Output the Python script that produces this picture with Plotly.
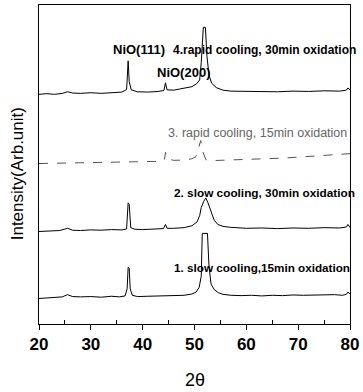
import plotly.graph_objects as go

# 2-theta positions (degrees) and intensities (arbitrary units, offset stacked)
x1 = [20, 21.5, 23, 24.5, 25.5, 26.5, 28, 30, 32, 34, 35.5, 36.6, 37.0, 37.2, 37.4, 37.6, 38.0, 39, 41, 43,
      44.5, 46, 48, 49.5, 50.3, 50.9, 51.3, 51.5, 52.5, 52.8, 53.2, 53.8, 54.6, 55.5, 57, 59, 61, 63, 65, 67,
      69, 71, 73, 75, 77, 78.5, 79.3, 79.6, 80]
y1 = [8.0, 8.2, 8.4, 8.5, 9.2, 8.6, 8.5, 8.6, 8.4, 8.7, 8.5, 8.8, 11.0, 17.8, 17.5, 11.0, 9.0, 8.6, 8.7, 8.8,
      8.9, 8.8, 9.0, 9.4, 10.0, 11.5, 15.0, 28.4, 28.4, 18.0, 12.5, 10.8, 9.8, 9.3, 9.0, 8.9, 9.0, 8.8, 9.0, 8.9,
      9.1, 9.0, 9.1, 9.0, 9.2, 9.0, 9.3, 10.0, 9.4]

x2 = [20, 22, 24, 25.5, 26.5, 28, 30, 32, 34, 36, 36.9, 37.2, 37.4, 37.7, 38.5, 40, 42, 44, 44.4, 44.7,
      46, 48, 49.5, 50.5, 51.0, 51.3, 51.8, 52.2, 52.6, 53.0, 53.3, 53.8, 54.5, 55.5, 57, 60, 63, 66, 69, 72,
      75, 78, 79.3, 79.6, 80]
y2 = [29.0, 29.2, 29.3, 30.0, 29.4, 29.3, 29.5, 29.4, 29.6, 29.5, 29.8, 38.0, 37.5, 30.2, 29.7, 29.6, 29.8, 29.9, 31.2, 30.0,
      30.0, 30.2, 30.8, 32.0, 34.0, 36.5, 38.5, 39.5, 38.0, 36.0, 34.5, 32.5, 31.2, 30.6, 30.3, 30.0, 30.1, 29.9, 30.1, 30.0,
      30.2, 30.1, 30.4, 31.2, 30.3]

x3 = [20, 23, 26, 29, 32, 35, 38, 41, 43.5, 44.2, 44.4, 44.7, 46, 48, 49.5, 50.3, 50.8, 51.2, 51.6, 52.2,
      53, 55, 58, 61, 64, 67, 70, 73, 76, 78, 80]
y3 = [50.3, 50.4, 50.5, 50.4, 50.6, 50.7, 50.8, 51.0, 51.0, 51.5, 53.8, 51.8, 51.3, 51.4, 51.8, 52.5, 55.3, 57.5, 54.0, 51.5,
      51.2, 51.3, 51.5, 51.6, 51.8, 52.0, 52.3, 52.6, 52.9, 53.1, 53.4]

x4 = [20, 21.5, 23, 24.5, 25.5, 26.5, 28, 30, 32, 34, 36, 36.9, 37.2, 37.4, 37.8, 39, 41, 43, 44.1, 44.4,
      44.7, 46, 48, 49.5, 50.4, 51.0, 51.3, 51.7, 52.1, 52.4, 52.8, 53.3, 54.2, 55.5, 57, 60, 63, 66, 69, 72,
      75, 78, 79.3, 79.6, 80]
y4 = [72.0, 72.2, 72.0, 72.3, 72.8, 72.4, 72.3, 72.5, 72.3, 72.6, 72.7, 73.5, 82.5, 76.0, 73.4, 72.8, 72.7, 72.9, 73.2, 75.6,
      73.4, 73.3, 73.8, 74.4, 75.3, 76.5, 82.0, 93.0, 93.0, 84.0, 78.0, 75.5, 74.1, 73.3, 73.0, 72.9, 73.0, 72.8, 73.0, 72.9,
      73.1, 73.0, 73.3, 74.0, 73.4]

tick_vals = [20, 30, 40, 50, 60, 70, 80]
tick_text = ["20", "30", "40", "50", "60", "70", "80"]

labels = [
    ("NiO(111)", 39.2, 85.9, "center", 13, 700, "black"),
    ("4.rapid cooling, 30min oxidation", 45.42, 86.0, "left", 12, 700, "black"),
    ("NiO(200)", 47.8, 78.75, "center", 13, 700, "black"),
    ("3. rapid cooling, 15min oxidation", 44.46, 60.0, "left", 12.5, 400, "#666666"),
    ("2. slow cooling, 30min oxidation", 45.6, 41.0, "left", 11.8, 700, "black"),
    ("1. slow cooling,15min oxidation", 45.6, 17.8, "left", 11.7, 700, "black"),
]

fig = go.Figure()
fig.add_trace(go.Scatter(x=x1, y=y1, mode="lines", line=dict(color="black", width=1)))
fig.add_trace(go.Scatter(x=x2, y=y2, mode="lines", line=dict(color="black", width=1)))
fig.add_trace(go.Scatter(x=x3, y=y3, mode="lines", line=dict(color="#555555", width=1, dash="dash")))
fig.add_trace(go.Scatter(x=x4, y=y4, mode="lines", line=dict(color="black", width=1)))

for text, xv, yv, anchor, size, weight, color in labels:
    fig.add_annotation(x=xv, y=yv, text=text, showarrow=False, xanchor=anchor, yanchor="middle",
                       font=dict(family="Liberation Sans, Arial, sans-serif", size=size, weight=weight, color=color))

fig.add_annotation(xref="paper", yref="paper", x=0.5, y=-0.175, text="2θ", showarrow=False,
                   xanchor="center", yanchor="middle",
                   font=dict(family="Liberation Sans, Arial, sans-serif", size=18, color="black"))
fig.add_annotation(xref="paper", yref="paper", x=-0.07, y=0.47, text="Intensity(Arb.unit)", showarrow=False,
                   textangle=-90, xanchor="center", yanchor="middle",
                   font=dict(family="Liberation Sans, Arial, sans-serif", size=17, color="black"))

fig.update_layout(
    width=363, height=392,
    margin=dict(l=39, r=10, t=4, b=68),
    paper_bgcolor="white", plot_bgcolor="white",
    showlegend=False,
    xaxis=dict(range=[20, 80], tickvals=tick_vals, ticktext=tick_text,
               showline=True, linecolor="black", linewidth=1, mirror=True,
               ticks="outside", ticklen=5, tickcolor="black", showgrid=False, zeroline=False,
               minor=dict(tickvals=[25, 35, 45, 55, 65, 75], ticks="inside", ticklen=4, tickcolor="black"),
               tickfont=dict(family="Liberation Sans, Arial, sans-serif", size=17,
                             weight=700, color="black")),
    yaxis=dict(range=[0, 100], showline=True, linecolor="black", linewidth=1, mirror=True,
               showticklabels=False, ticks="", showgrid=False, zeroline=False),
)

fig.write_html("out.html")
